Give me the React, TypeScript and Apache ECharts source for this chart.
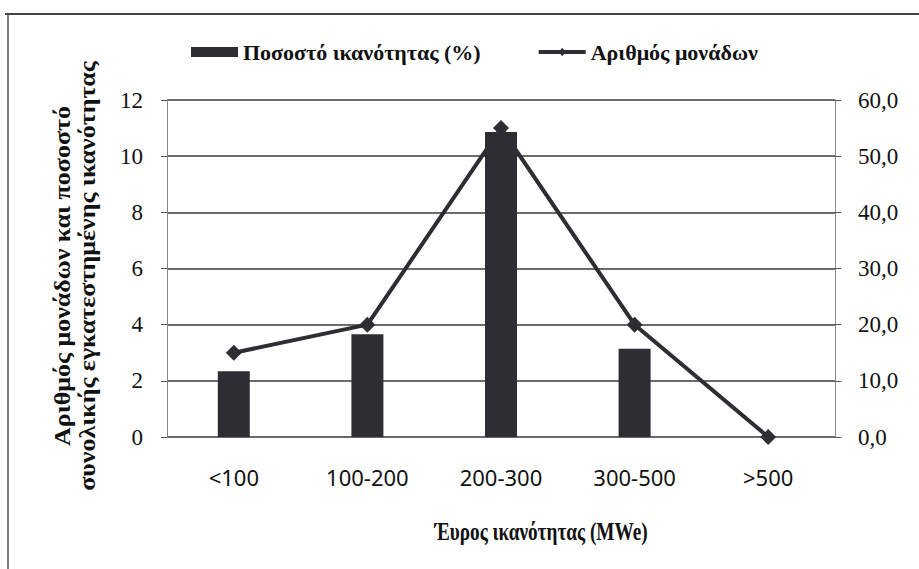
import React, { useEffect, useRef } from "react";
import * as echarts from "echarts";

const categories = ["<100", "100-200", "200-300", "300-500", ">500"];
const capacityPercent = [11.7, 18.3, 54.3, 15.7, 0];
const unitCount = [3, 4, 11, 4, 0];
const leftTicks = { min: 0, max: 12, interval: 2 };
const rightTicks = { min: 0, max: 60, interval: 10 };

const SERIF = "Liberation Serif, DejaVu Serif, serif";
const DARK = "#2d2d33";

export default function App() {
  const ref = useRef<HTMLDivElement>(null);
  useEffect(() => {
    if (!ref.current) return;
    const chart = echarts.init(ref.current, undefined, { renderer: "svg" });
    chart.setOption({
      animation: false,
      backgroundColor: "#ffffff",
      legend: {
        left: 186,
        top: 36,
        itemGap: 56,
        itemWidth: 47,
        itemHeight: 10,
        lineStyle: { width: 4 },
        textStyle: { fontFamily: SERIF, fontWeight: "bold", fontSize: 22, color: "#111" },
        data: [
          { name: "Ποσοστό ικανότητας (%)", icon: "rect" },
          { name: "Αριθμός μονάδων", lineStyle: { width: 4, color: DARK } },
        ],
      },
      grid: { left: 167, top: 100, width: 668, height: 337 },
      xAxis: {
        type: "category",
        data: categories,
        axisLine: { show: false },
        axisTick: { show: false },
        axisLabel: { fontFamily: "Noto Sans, sans-serif", fontSize: 22, color: "#111", margin: 29 },
      },
      yAxis: [
        {
          type: "value",
          min: leftTicks.min,
          max: leftTicks.max,
          interval: leftTicks.interval,
          axisLine: { show: true, lineStyle: { color: "#888", width: 1 } },
          axisTick: { show: true, length: 6, lineStyle: { color: "#555" } },
          axisLabel: { fontFamily: SERIF, fontSize: 23, color: "#111", margin: 24 },
          splitLine: { show: true, lineStyle: { color: "#3a3a3a", width: 1.5 } },
        },
        {
          type: "value",
          min: rightTicks.min,
          max: rightTicks.max,
          interval: rightTicks.interval,
          axisLine: { show: true, lineStyle: { color: "#888", width: 1 } },
          axisTick: { show: true, length: 6, lineStyle: { color: "#555" } },
          axisLabel: {
            fontFamily: SERIF,
            fontSize: 23,
            color: "#111",
            margin: 23,
            formatter: (v: number) => v.toFixed(1).replace(".", ","),
          },
          splitLine: { show: false },
        },
      ],
      series: [
        {
          name: "Ποσοστό ικανότητας (%)",
          type: "bar",
          yAxisIndex: 1,
          data: capacityPercent,
          barWidth: 32,
          itemStyle: { color: DARK },
        },
        {
          name: "Αριθμός μονάδων",
          type: "line",
          yAxisIndex: 0,
          data: unitCount,
          symbol: "diamond",
          symbolSize: 16,
          lineStyle: { color: DARK, width: 4 },
          itemStyle: { color: DARK },
        },
      ],
      graphic: [
        {
          type: "line",
          shape: { x1: 5, y1: 14, x2: 919, y2: 14 },
          style: { stroke: "#444", lineWidth: 2 },
        },
        {
          type: "line",
          shape: { x1: 8, y1: 14, x2: 8, y2: 569 },
          style: { stroke: "#555", lineWidth: 1.5 },
        },
        {
          type: "text",
          x: 75,
          y: 276,
          rotation: Math.PI / 2,
          scaleY: 0.85,
          style: {
            text: "Αριθμός μονάδων και ποσοστό\nσυνολικής εγκατεστημένης ικανότητας",
            fontFamily: SERIF,
            fontWeight: "bold",
            fontSize: 26,
            fill: "#111",
            align: "center",
            verticalAlign: "middle",
            lineHeight: 29,
          },
        },
        {
          type: "text",
          x: 541,
          y: 531,
          scaleX: 0.74,
          style: {
            text: "Έυρος ικανότητας (MWe)",
            fontFamily: SERIF,
            fontWeight: "bold",
            fontSize: 26,
            fill: "#111",
            align: "center",
            verticalAlign: "middle",
          },
        },
      ],
    });
    return () => chart.dispose();
  }, []);
  return (
    <div
      ref={ref}
      style={{ position: "fixed", left: 0, top: 0, width: 919, height: 569 }}
    />
  );
}
